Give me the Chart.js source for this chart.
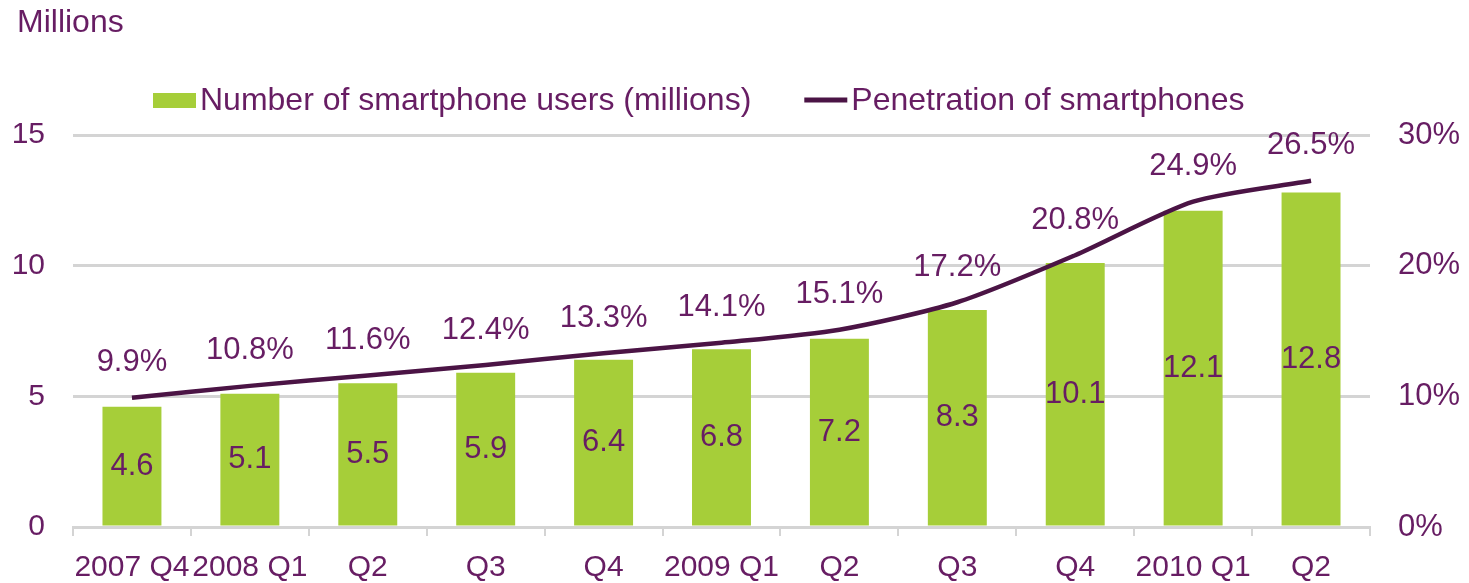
<!DOCTYPE html>
<html>
<head>
<meta charset="utf-8">
<script src="https://cdn.jsdelivr.net/npm/chart.js@4/dist/chart.umd.min.js"></script>
<style>
  html, body { margin: 0; padding: 0; background: #fff; }
  #wrap { width: 1469px; height: 583px; }
</style>
</head>
<body>
<div id="wrap"><canvas id="chart_smartphones"></canvas></div>
<script>
// data
var quarters = ['2007 Q4', '2008 Q1', 'Q2', 'Q3', 'Q4', '2009 Q1', 'Q2', 'Q3', 'Q4', '2010 Q1', 'Q2'];
var smartphoneUsers = [4.6, 5.1, 5.5, 5.9, 6.4, 6.8, 7.2, 8.3, 10.1, 12.1, 12.8];
var penetration = [9.9, 10.8, 11.6, 12.4, 13.3, 14.1, 15.1, 17.2, 20.8, 24.9, 26.5];
var leftTicks = [0, 5, 10, 15];
var rightTicks = [0, 10, 20, 30];

var textColor = '#671d63';
var lineColor = '#4b1445';
var barColor = '#a6ce39';
var gridColor = '#d4d4d4';
var fontFamily = '"Liberation Sans", Arial, sans-serif';

Chart.defaults.font.family = fontFamily;
Chart.defaults.color = textColor;

var labelsPlugin = {
    id: 'valueLabels',
    afterDatasetsDraw: (chart) => {
        const ctx = chart.ctx;
        ctx.save();
        ctx.font = '31px ' + fontFamily;
        ctx.fillStyle = textColor;
        ctx.textAlign = 'center';
        ctx.textBaseline = 'middle';
        chart.getDatasetMeta(0).data.forEach((bar, i) => {
            ctx.fillText(smartphoneUsers[i].toFixed(1), bar.x, (bar.y + bar.base) / 2);
        });
        chart.getDatasetMeta(1).data.forEach((pt, i) => {
            ctx.fillText(penetration[i].toFixed(1) + '%', pt.x, pt.y - 35);
        });
        ctx.restore();
    }
};

var headerPlugin = {
    id: 'header',
    afterDraw: (chart) => {
        const ctx = chart.ctx;
        const area = chart.chartArea;
        ctx.save();
        ctx.font = '32px ' + fontFamily;
        ctx.fillStyle = textColor;
        ctx.textBaseline = 'middle';
        ctx.textAlign = 'left';
        ctx.fillText('Millions', 17, 23);

        // legend row
        const y = 101;
        let x = area.left + 80;
        const names = chart.data.datasets.map(d => d.label);
        // bar swatch
        ctx.fillStyle = barColor;
        ctx.fillRect(x, y - 8, 43, 15);
        x += 47;
        ctx.fillStyle = textColor;
        ctx.fillText(names[0], x, y);
        x += ctx.measureText(names[0]).width + 53;
        // line swatch
        ctx.strokeStyle = lineColor;
        ctx.lineWidth = 5;
        ctx.beginPath();
        ctx.moveTo(x, y - 1);
        ctx.lineTo(x + 43, y - 1);
        ctx.stroke();
        x += 47;
        ctx.fillText(names[1], x, y);
        ctx.restore();
    }
};

var chart_smartphones = new Chart(document.getElementById('chart_smartphones'), {
    type: 'bar',
    data: {
        labels: quarters,
        datasets: [
            {
                label: 'Number of smartphone users (millions)',
                data: smartphoneUsers,
                backgroundColor: barColor,
                borderWidth: 0,
                barPercentage: 0.5,
                categoryPercentage: 1,
                yAxisID: 'y',
                order: 2
            },
            {
                type: 'line',
                label: 'Penetration of smartphones',
                data: penetration,
                borderColor: lineColor,
                backgroundColor: lineColor,
                borderWidth: 4.5,
                pointRadius: 0,
                tension: 0.25,
                yAxisID: 'y1',
                order: 1
            }
        ]
    },
    options: {
        animation: false,
        responsive: true,
        maintainAspectRatio: false,
        layout: {
            padding: { top: 135, left: 0, right: 0, bottom: 0 }
        },
        plugins: {
            legend: { display: false },
            title: { display: false },
            tooltip: { enabled: false }
        },
        scales: {
            x: {
                grid: {
                    offset: true,
                    drawOnChartArea: false,
                    drawTicks: true,
                    tickLength: 9,
                    color: gridColor,
                    lineWidth: 2
                },
                border: { color: gridColor, width: 3 },
                ticks: {
                    font: { size: 30 },
                    color: textColor,
                    padding: 14,
                    maxRotation: 0,
                    autoSkip: false
                },
                afterFit: (scale) => { scale.height = 56; }
            },
            y: {
                position: 'left',
                min: 0,
                max: 15,
                afterBuildTicks: (scale) => { scale.ticks = leftTicks.map(v => ({ value: v })); },
                grid: { color: gridColor, lineWidth: 3, drawTicks: false },
                border: { display: false },
                ticks: { font: { size: 30 }, color: textColor, padding: 28 },
                afterFit: (scale) => { scale.width = 73; }
            },
            y1: {
                position: 'right',
                min: 0,
                max: 30,
                afterBuildTicks: (scale) => { scale.ticks = rightTicks.map(v => ({ value: v })); },
                grid: { drawOnChartArea: false, drawTicks: false },
                border: { display: false },
                ticks: {
                    font: { size: 31 },
                    color: textColor,
                    padding: 28,
                    callback: (v) => v + '%'
                },
                afterFit: (scale) => { scale.width = 99; }
            }
        }
    },
    plugins: [labelsPlugin, headerPlugin, {
        id: 'whiteBackground',
        beforeDraw: (chart) => {
            const ctx = chart.canvas.getContext('2d');
            ctx.save();
            ctx.globalCompositeOperation = 'destination-over';
            ctx.fillStyle = 'white';
            ctx.fillRect(0, 0, chart.canvas.width, chart.canvas.height);
            ctx.restore();
        }
    }]
});
</script>
</body>
</html>
